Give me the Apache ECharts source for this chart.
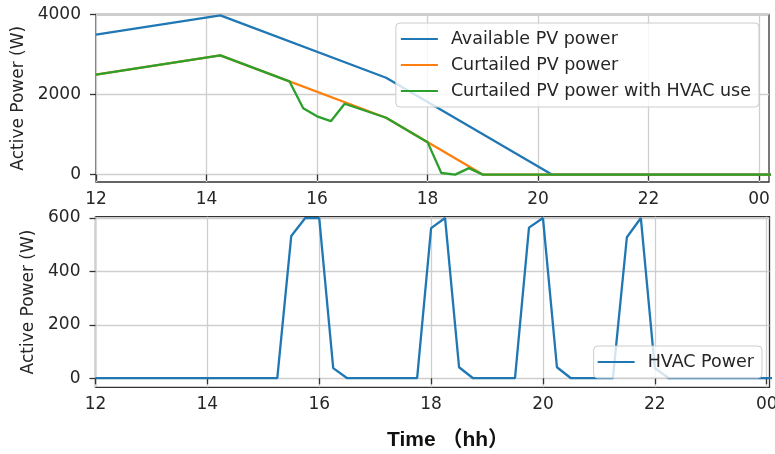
<!DOCTYPE html>
<html><head><meta charset="utf-8">
<script src="https://cdn.jsdelivr.net/npm/echarts@6/dist/echarts.min.js"></script>
<style>html,body{margin:0;padding:0;background:#fff}#c{width:775px;height:454px}</style>
</head><body><div id="c"></div>
<script>
// ---- data (hours of day) ----
const availTimes = [12, 14.25, 17.25, 20.25, 24.25];
const availPower = [3500, 3980, 2420, 0, 0];

const curtTimes = [12, 14.25, 17.25, 19.0, 24.25];
const curtPower = [2500, 2980, 1420, 0, 0];

const hvacCurtTimes = [12, 14.25, 15.5, 15.75, 16.0, 16.25, 16.5, 17.25, 18.0, 18.25, 18.5, 18.75, 19.0, 24.25];
const hvacCurtPower = [2500, 2980, 2330, 1660, 1455, 1335, 1770, 1420, 811, 40, 0, 162, 0, 0];

const hvacTimes = [12, 15.25, 15.5, 15.75, 16.0, 16.25, 16.5, 17.75, 18.0, 18.25, 18.5, 18.75, 19.5, 19.75, 20.0, 20.25, 20.5, 21.25, 21.5, 21.75, 22.0, 22.25, 24.25];
const hvacPower = [0, 0, 533, 600, 600, 38, 0, 0, 562, 600, 41, 0, 0, 564, 600, 41, 0, 0, 528, 600, 38, 0, 0];

const xTickValues = [12, 14, 16, 18, 20, 22, 24];
const xTickLabels = ['12', '14', '16', '18', '20', '22', '00'];
const topYTicks = [0, 2000, 4000];
const bottomYTicks = [0, 200, 400, 600];

const seriesNames = ['Available PV power', 'Curtailed PV power', 'Curtailed PV power with HVAC use'];
const hvacName = 'HVAC Power';

// ---- helpers ----
const zip = (xs, ys) => xs.map((x, i) => [x, ys[i]]);
const FONT = 'DejaVu Sans';
const TXT = '#262626';

function xAxis(gridIndex, max) {
  return {
    type: 'value', gridIndex, min: 12, max,
    axisLine: { show: false },
    axisTick: { show: true, inside: false, length: 6, lineStyle: { color: '#333', width: 1.3 }, customValues: xTickValues },
    axisLabel: {
      customValues: xTickValues, margin: 9, fontSize: 17, color: TXT, fontFamily: FONT,
      hideOverlap: false,
      formatter: v => { const i = xTickValues.indexOf(v); return i >= 0 ? xTickLabels[i] : ''; }
    },
    splitLine: { show: true, lineStyle: { color: '#cfcfcf', width: 1.3 } }
  };
}
function yAxis(gridIndex, min, max, ticks, nameGap) {
  return {
    type: 'value', gridIndex, min, max,
    name: 'Active Power (W)', nameLocation: 'middle', nameRotate: 90, nameGap,
    nameTextStyle: { fontSize: 17, color: TXT, fontFamily: FONT },
    axisLine: { show: false },
    axisTick: { show: true, inside: false, length: 6, lineStyle: { color: '#333', width: 1.3 }, customValues: ticks },
    axisLabel: { customValues: ticks, margin: 15, fontSize: 17, color: TXT, fontFamily: FONT, formatter: v => String(v) },
    splitLine: { show: true, lineStyle: { color: '#cfcfcf', width: 1.3 } }
  };
}
const legendStyle = {
  orient: 'vertical', icon: 'rect', itemWidth: 37, itemHeight: 2.2, itemGap: 6,
  backgroundColor: 'rgba(255,255,255,0.8)', borderColor: '#cccccc', borderWidth: 1, borderRadius: 4,
  textStyle: { fontSize: 17.5, lineHeight: 20, color: TXT, fontFamily: FONT, padding: [0, 0, 0, 8] }
};
function line(name, data, color, xi, yi) {
  return {
    type: 'line', name, data, xAxisIndex: xi, yAxisIndex: yi,
    showSymbol: false, symbol: 'none', clip: true,
    lineStyle: { width: 2.3, color }, itemStyle: { color }
  };
}

const chart = echarts.init(document.getElementById('c'), null, { renderer: 'canvas' });
chart.setOption({
  animation: false,
  backgroundColor: '#fff',
  grid: [
    { left: 96, top: 14.5, width: 673, height: 167.5, show: true, borderColor: '#333333', borderWidth: 1.3, containLabel: false, outerBoundsMode: 'none' },
    { left: 95.5, top: 216.7, width: 674, height: 170.6, show: true, borderColor: '#333333', borderWidth: 1.3, containLabel: false, outerBoundsMode: 'none' }
  ],
  xAxis: [xAxis(0, 24.18), xAxis(1, 24.05)],
  yAxis: [yAxis(0, -185, 4000, topYTicks, 61.5), yAxis(1, -34, 605, bottomYTicks, 50)],
  legend: [
    Object.assign({}, legendStyle, { data: seriesNames, right: 16, top: 23, padding: [6, 8, 6, 5] }),
    Object.assign({}, legendStyle, { data: [hvacName], right: 13, top: 346, padding: [6, 8, 6, 4] })
  ],
  series: [
    line(seriesNames[0], zip(availTimes, availPower), '#1f77b4', 0, 0),
    line(seriesNames[1], zip(curtTimes, curtPower), '#ff7f0e', 0, 0),
    line(seriesNames[2], zip(hvacCurtTimes, hvacCurtPower), '#2ca02c', 0, 0),
    line(hvacName, zip(hvacTimes, hvacPower), '#1f77b4', 1, 1)
  ],
  graphic: [{
    type: 'text', left: 387, top: 430,
    style: { text: 'Time （hh）', fontSize: 21, fontWeight: 'bold', fontFamily: '"Liberation Sans", "Noto Sans CJK SC"', fill: '#111' }
  }]
});
</script></body></html>
